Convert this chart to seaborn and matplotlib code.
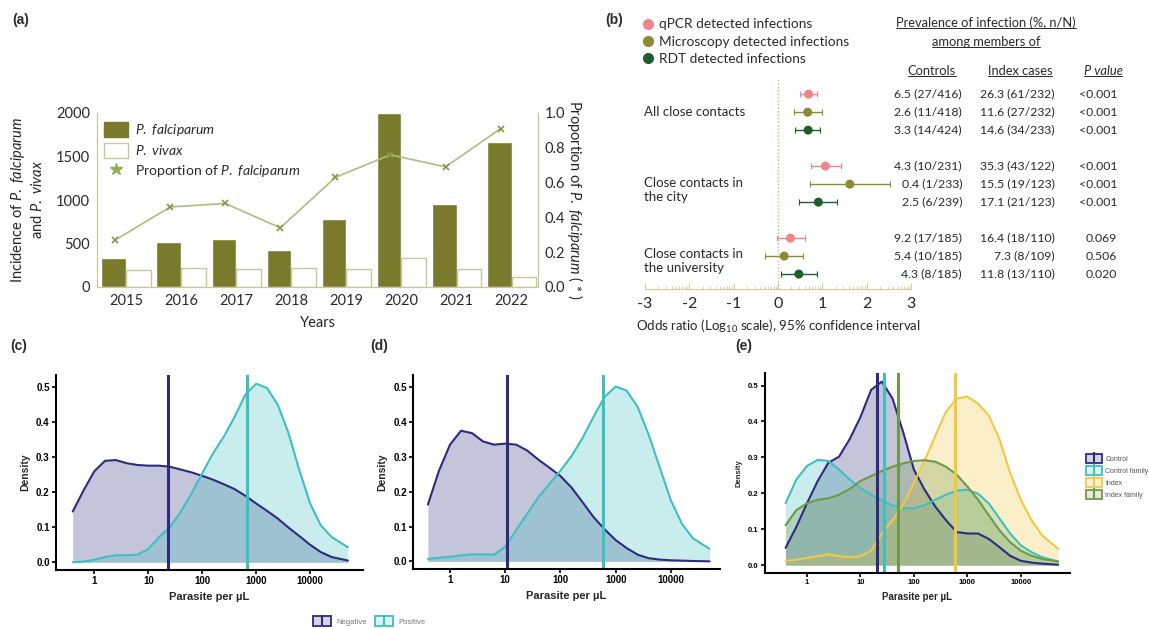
import numpy as np
import pandas as pd
import matplotlib.pyplot as plt
import seaborn as sns
from matplotlib.patches import Patch
from matplotlib.lines import Line2D
from matplotlib.colors import to_rgba
from matplotlib.transforms import blended_transform_factory
from matplotlib.ticker import NullLocator

# ---- (a) malaria incidence per year
years = ['2015', '2016', '2017', '2018', '2019', '2020', '2021', '2022']
falciparum = [330, 520, 555, 420, 780, 2000, 955, 1670]
vivax = [200, 215, 205, 220, 205, 330, 205, 115]
prop_falciparum = [0.27, 0.46, 0.48, 0.34, 0.63, 0.76, 0.69, 0.91]

# ---- (b) forest plot, log10 odds ratio with 95% CI
groups = ['All close contacts', 'Close contacts in\nthe city', 'Close contacts in\nthe university']
methods = ['qPCR detected infections', 'Microscopy detected infections', 'RDT detected infections']
log_or = [0.69, 0.67, 0.68, 1.07, 1.62, 0.91, 0.28, 0.14, 0.47]
ci_low = [0.49, 0.35, 0.39, 0.75, 0.73, 0.48, -0.02, -0.30, 0.06]
ci_high = [0.89, 1.00, 0.95, 1.41, 2.52, 1.33, 0.60, 0.57, 0.87]
controls = ['6.5 (27/416)', '2.6 (11/418)', '3.3 (14/424)', '4.3 (10/231)', '0.4 (1/233)',
            '2.5 (6/239)', '9.2 (17/185)', '5.4 (10/185)', '4.3 (8/185)']
index_cases = ['26.3 (61/232)', '11.6 (27/232)', '14.6 (34/233)', '35.3 (43/122)', '15.5 (19/123)',
               '17.1 (21/123)', '16.4 (18/110)', '7.3 (8/109)', '11.8 (13/110)']
p_values = ['<0.001', '<0.001', '<0.001', '<0.001', '<0.001', '<0.001', '0.069', '0.506', '0.020']

# ---- (c)-(e) parasite density curves, read at log10(parasites/uL)
log_parasite = [-0.4, -0.2, 0.0, 0.2, 0.4, 0.6, 0.8, 1.0, 1.2, 1.4, 1.6, 1.8, 2.0,
                2.2, 2.4, 2.6, 2.8, 3.0, 3.2, 3.4, 3.6, 3.8, 4.0, 4.2, 4.4, 4.7]
c_negative = [0.145, 0.205, 0.26, 0.29, 0.292, 0.283, 0.278, 0.276, 0.276, 0.273, 0.265, 0.257, 0.247,
              0.236, 0.223, 0.209, 0.19, 0.168, 0.147, 0.125, 0.099, 0.075, 0.05, 0.029, 0.015, 0.005]
c_positive = [0.0, 0.002, 0.007, 0.015, 0.02, 0.02, 0.022, 0.038, 0.072, 0.10, 0.144, 0.196, 0.254,
              0.311, 0.359, 0.415, 0.479, 0.51, 0.498, 0.45, 0.369, 0.263, 0.168, 0.105, 0.072, 0.043]
d_negative = [0.163, 0.26, 0.335, 0.375, 0.368, 0.344, 0.335, 0.338, 0.335, 0.318, 0.292, 0.269, 0.245,
              0.212, 0.17, 0.127, 0.092, 0.061, 0.038, 0.019, 0.009, 0.005, 0.003, 0.002, 0.001, 0.0]
d_positive = [0.007, 0.01, 0.013, 0.017, 0.02, 0.02, 0.019, 0.042, 0.09, 0.137, 0.184, 0.222, 0.26,
              0.302, 0.354, 0.415, 0.472, 0.502, 0.49, 0.443, 0.363, 0.269, 0.175, 0.108, 0.066, 0.036]
e_control = [0.048, 0.106, 0.172, 0.234, 0.285, 0.302, 0.351, 0.412, 0.488, 0.511, 0.464, 0.37, 0.266,
             0.21, 0.163, 0.125, 0.092, 0.088, 0.088, 0.073, 0.05, 0.026, 0.012, 0.007, 0.004, 0.001]
e_control_family = [0.172, 0.238, 0.276, 0.293, 0.29, 0.266, 0.238, 0.215, 0.196, 0.18, 0.166, 0.158, 0.158,
                    0.167, 0.182, 0.196, 0.207, 0.21, 0.199, 0.172, 0.13, 0.088, 0.055, 0.036, 0.022, 0.01]
e_index = [0.012, 0.015, 0.02, 0.025, 0.03, 0.025, 0.022, 0.025, 0.04, 0.088, 0.125, 0.168, 0.229,
           0.29, 0.36, 0.427, 0.464, 0.469, 0.45, 0.417, 0.351, 0.257, 0.182, 0.125, 0.083, 0.045]
e_index_family = [0.111, 0.153, 0.172, 0.182, 0.186, 0.196, 0.212, 0.234, 0.248, 0.262, 0.274, 0.283, 0.29,
                  0.292, 0.288, 0.274, 0.252, 0.219, 0.182, 0.139, 0.097, 0.064, 0.04, 0.026, 0.017, 0.01]
c_medians = {'Negative': 23.5, 'Positive': 680}
d_medians = {'Negative': 10.6, 'Positive': 600}
e_medians = {'Control': 20.5, 'Control family': 27.7, 'Index': 600, 'Index family': 51}

OLIVE = '#7a7a2c'
KHAKI = '#c9c79a'
NAVY = '#2e2b7e'
CYAN = '#3fbfc0'
YELLOW = '#f2c744'
GREEN = '#6f9a45'
method_colors = ['#f0848b', '#8c8a34', '#1d5e2c']

sns.set_style('white')
plt.rcParams['font.family'] = ['Lato', 'DejaVu Sans']
plt.rcParams['mathtext.fontset'] = 'custom'
plt.rcParams['mathtext.rm'] = 'Lato'
plt.rcParams['mathtext.it'] = 'Lato:italic'
plt.rcParams['text.color'] = '#2a2a2a'
plt.rcParams['axes.unicode_minus'] = False

W, H = 1149, 629


def box(l, t, r, b):
    return [l / W, 1 - b / H, (r - l) / W, (b - t) / H]


fig = plt.figure(figsize=(W / 100, H / 100), dpi=100)

# ================= (a)
ax_a = fig.add_axes(box(97, 113, 538, 287))
df_a = pd.DataFrame({'Year': years * 2, 'Cases': falciparum + vivax,
                     'Species': ['P. falciparum'] * len(years) + ['P. vivax'] * len(years)})
sns.barplot(data=df_a, x='Year', y='Cases', hue='Species', width=0.9, saturation=1,
            palette={'P. falciparum': OLIVE, 'P. vivax': 'white'}, legend=False, ax=ax_a)
for p in ax_a.containers[1]:
    p.set_edgecolor(KHAKI)
    p.set_linewidth(1)
ax_a.set_xlim(-0.53, 7.48)
ax_a.set_ylim(0, 2000)
ax_a.set_yticks([0, 500, 1000, 1500, 2000])
ax_a.tick_params(length=0, labelsize=10.5, colors='#2a2a2a', pad=5)
ax_a.set_xlabel('Years', fontsize=10.5, labelpad=6)
ax_a.set_ylabel('Incidence of $\\mathit{P.\\ falciparum}$\nand $\\mathit{P.\\ vivax}$', fontsize=10.5, labelpad=8)
for s in ['left', 'bottom', 'right']:
    ax_a.spines[s].set_color(KHAKI)
ax_a.spines['top'].set_visible(False)

ax_a2 = ax_a.twinx()
sns.lineplot(x=np.arange(len(years)) - 0.2, y=prop_falciparum, sort=False, ax=ax_a2, color='#a8c07e',
             lw=1.2, marker='x', markersize=5, markeredgecolor='#7f9b4a', markeredgewidth=1.2)
ax_a2.set_ylim(0, 1.0)
ax_a2.set_xlim(-0.53, 7.48)
ax_a2.set_yticks([0, 0.2, 0.4, 0.6, 0.8, 1.0])
ax_a2.set_yticklabels(['0.0', '0.2', '0.4', '0.6', '0.8', '1.0'])
ax_a2.tick_params(length=0, labelsize=10.5, colors='#2a2a2a', pad=5)
ax_a2.set_ylabel('Proportion of $\\mathit{P.\\ falciparum}$ ( * )', rotation=270, fontsize=10.5, labelpad=14)
for s in ['left', 'bottom', 'right']:
    ax_a2.spines[s].set_color(KHAKI)
ax_a2.spines['top'].set_visible(False)
ax_a.legend(handles=[Patch(facecolor=OLIVE, edgecolor=OLIVE),
                     Patch(facecolor='white', edgecolor=KHAKI),
                     Line2D([], [], ls='None', marker='*', color='#8fae4c', markersize=9)],
            labels=['$\\mathit{P.\\ falciparum}$', '$\\mathit{P.\\ vivax}$', 'Proportion of $\\mathit{P.\\ falciparum}$'],
            loc='upper left', bbox_to_anchor=(-0.012, 1.02), frameon=False, fontsize=10,
            handlelength=1.7, handleheight=1.3, labelspacing=0.35, handletextpad=0.5)
ax_a2.set_zorder(ax_a.get_zorder() + 1)

# ================= (b)
ax_b = fig.add_axes(box(645, 78, 911, 289))
rows = [g * 4 + m for g in range(len(groups)) for m in range(len(methods))]
for i, r in enumerate(rows):
    ax_b.errorbar(log_or[i], r, xerr=[[log_or[i] - ci_low[i]], [ci_high[i] - log_or[i]]], fmt='none',
                  ecolor=method_colors[i % 3], elinewidth=1, capsize=2.5, capthick=0.8)
df_b = pd.DataFrame({'lor': log_or, 'row': rows, 'method': [methods[r % 4] for r in rows]})
sns.scatterplot(data=df_b, x='lor', y='row', hue='method', palette=dict(zip(methods, method_colors)),
                s=42, edgecolor='none', legend=False, ax=ax_b, zorder=3)
ax_b.axvline(0, color='#c6b67a', ls=(0, (1, 1.5)), lw=1)
ax_b.set_xlim(-3, 3)
ax_b.set_ylim(10.83, -0.9)
ax_b.set_yticks([])
ax_b.set_xticks(range(-3, 4))
ax_b.set_xticks([k + np.log10(m) for k in range(-3, 3) for m in range(2, 10)], minor=True)
ax_b.tick_params(axis='x', which='major', direction='in', bottom=True, length=4, color='#d6c99c',
                 labelsize=11.5, pad=6)
ax_b.tick_params(axis='x', which='minor', direction='in', bottom=True, length=2, color='#d6c99c')
ax_b.set_xlabel('Odds ratio (Log$_{10}$ scale), 95% confidence interval', fontsize=9.5, labelpad=5)
ax_b.set_ylabel('')
for s in ['left', 'right', 'top']:
    ax_b.spines[s].set_visible(False)
ax_b.spines['bottom'].set_color('#d6c99c')
for g, name in enumerate(groups):
    ax_b.text(-3.02, g * 4 + 1 + (0.3 if '\n' in name else 0), name, ha='left', va='center', fontsize=9.5)

tr = blended_transform_factory(fig.transFigure, ax_b.transData)
for i, r in enumerate(rows):
    ax_b.text(962 / W, r, controls[i], transform=tr, ha='right', va='center', fontsize=8.8)
    ax_b.text(1055 / W, r, index_cases[i], transform=tr, ha='right', va='center', fontsize=8.8)
    ax_b.text(1117 / W, r, p_values[i], transform=tr, ha='right', va='center', fontsize=8.8)
headers = [fig.text(986 / W, 1 - 23 / H, 'Prevalence of infection (%, n/N)', ha='center', va='center', fontsize=9.3),
           fig.text(986 / W, 1 - 42 / H, 'among members of', ha='center', va='center', fontsize=9.3),
           fig.text(932 / W, 1 - 71 / H, 'Controls', ha='center', va='center', fontsize=9.3),
           fig.text(1020 / W, 1 - 71 / H, 'Index cases', ha='center', va='center', fontsize=9.3),
           fig.text(1103 / W, 1 - 71 / H, 'P value', ha='center', va='center', fontsize=9.3, style='italic')]
fig.legend(handles=[Line2D([], [], ls='None', marker='o', color=c, markersize=7) for c in method_colors],
           labels=methods, loc='upper left', bbox_to_anchor=(637 / W, 1 - 13 / H), frameon=False,
           fontsize=9.8, handlelength=0.8, handletextpad=0.4, labelspacing=0.38, borderaxespad=0)

# ================= (c)-(e)
DFONT = ['Liberation Sans', 'DejaVu Sans']


def density_panel(ax, curves, colors, medians, xlim, small=False):
    xs = 10 ** np.array(log_parasite)
    for name, dens in curves.items():
        ax.fill_between(xs, dens, color=colors[name], alpha=0.28, linewidth=0)
        sns.lineplot(x=xs, y=dens, ax=ax, color=colors[name], lw=1.5)
    for name, med in medians.items():
        ax.axvline(med, color=colors[name], lw=2.2)
    ax.set_xscale('log')
    ax.set_xlim(10 ** xlim[0], 10 ** xlim[1])
    ax.set_ylim(-0.022, 0.535)
    ax.set_xticks([1, 10, 100, 1000, 10000])
    ax.set_xticklabels(['1', '10', '100', '1000', '10000'])
    ax.xaxis.set_minor_locator(NullLocator())
    ax.set_yticks([0, 0.1, 0.2, 0.3, 0.4, 0.5])
    ax.set_yticklabels(['0.0', '0.1', '0.2', '0.3', '0.4', '0.5'])
    fs = 5.5 if small else 7
    ax.tick_params(bottom=True, left=True, length=3, width=1.2, colors='black', labelsize=fs, pad=1.5)
    for lbl in ax.get_xticklabels() + ax.get_yticklabels():
        lbl.set_fontweight('bold')
        lbl.set_family(DFONT)
    ax.set_xlabel('Parasite per µL', fontsize=7 if small else 8, fontweight='bold', family=DFONT, labelpad=4)
    ax.set_ylabel('Density', fontsize=5.5 if small else 7.5, fontweight='bold', family=DFONT, labelpad=4)
    sns.despine(ax=ax)
    for s in ['left', 'bottom']:
        ax.spines[s].set_linewidth(1.5)
        ax.spines[s].set_color('black')


cd_colors = {'Negative': NAVY, 'Positive': CYAN}
ax_c = fig.add_axes(box(56, 375, 363, 570))
density_panel(ax_c, {'Negative': c_negative, 'Positive': c_positive}, cd_colors, c_medians, (-0.71, 4.98))
ax_d = fig.add_axes(box(413, 375, 720, 569))
density_panel(ax_d, {'Negative': d_negative, 'Positive': d_positive}, cd_colors, d_medians, (-0.67, 4.89))
e_colors = {'Control': NAVY, 'Control family': CYAN, 'Index': YELLOW, 'Index family': GREEN}
ax_e = fig.add_axes(box(765, 373, 1070, 573))
density_panel(ax_e, {'Control': e_control, 'Control family': e_control_family,
                     'Index': e_index, 'Index family': e_index_family}, e_colors, e_medians,
              (-0.785, 4.92), small=True)


def med_handle(c, size):
    return (Patch(facecolor=to_rgba(c, 0.2), edgecolor=c, lw=1.3),
            Line2D([], [], ls='None', marker='|', color=c, markersize=size, markeredgewidth=1.5))


fig.legend(handles=[med_handle(NAVY, 7.5), med_handle(CYAN, 7.5)], labels=['Negative', 'Positive'], ncol=2,
           loc='center left', bbox_to_anchor=(310 / W, 1 - 621 / H), frameon=False,
           prop={'family': DFONT, 'size': 5.5}, labelcolor='#777777', handlelength=2.4, handleheight=1.6,
           handletextpad=0.7, columnspacing=1.0, borderaxespad=0)
fig.legend(handles=[med_handle(c, 6.5) for c in e_colors.values()], labels=list(e_colors.keys()),
           loc='upper left', bbox_to_anchor=(1083 / W, 1 - 451 / H), frameon=False,
           prop={'family': DFONT, 'size': 5}, labelcolor='#555555', handlelength=2.3, handleheight=1.6,
           handletextpad=0.5, labelspacing=0.45, borderaxespad=0)

# panel letters
for lbl, x, y in [('(a)', 12, 20), ('(b)', 605, 20), ('(c)', 10, 346), ('(d)', 370, 346), ('(e)', 735, 346)]:
    fig.text(x / W, 1 - y / H, lbl, fontsize=10, fontweight='bold', family=DFONT, va='center')

# underline the table headers
fig.canvas.draw()
renderer = fig.canvas.get_renderer()
for t in headers:
    bb = t.get_window_extent(renderer)
    fig.add_artist(Line2D([bb.x0 / W, bb.x1 / W], [(bb.y0 + 1) / H] * 2, color='#2a2a2a', lw=0.7,
                          transform=fig.transFigure))

fig.savefig('out.png', dpi=100)
